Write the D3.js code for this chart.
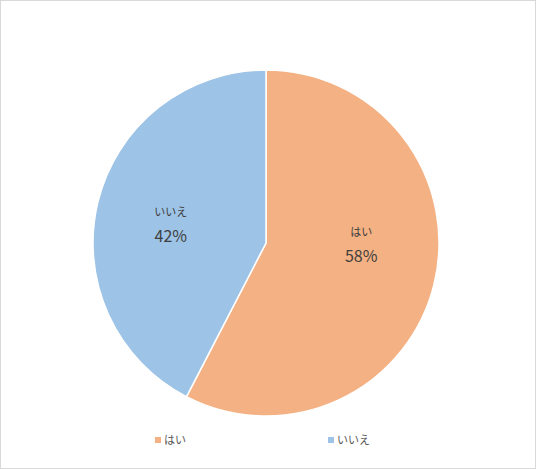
<!DOCTYPE html>
<html><head><meta charset="utf-8">
<script src="https://cdn.jsdelivr.net/npm/d3@7"></script>
<style>body{margin:0;background:#fff;}svg{display:block;}</style>
</head><body>
<script>
const categories = ["はい", "いいえ"];
const values = [57.6, 42.4];
const colors = ["#F4B183", "#9DC3E6"];
const labelNudge = [-20, 6];

const W = 536, H = 469;
const svg = d3.select("body").append("svg").attr("width", W).attr("height", H);
svg.append("rect").attr("x", 0.5).attr("y", 0.5).attr("width", W - 1).attr("height", H - 1)
  .attr("fill", "#fff").attr("stroke", "#d9d9d9");

const cx = 266, cy = 243, R = 173;
const pie = d3.pie().sort(null).value(d => d.v);
const data = pie(categories.map((c, i) => ({c, v: values[i], i})));
const arc = d3.arc().innerRadius(0).outerRadius(R);
const labelArc = d3.arc().innerRadius(98).outerRadius(98);
const g = svg.append("g").attr("transform", `translate(${cx},${cy})`);
g.selectAll("path").data(data).join("path")
  .attr("d", arc).attr("fill", d => colors[d.data.i])
  .attr("stroke", "#fff").attr("stroke-width", 1.5);

const total = d3.sum(values);
const lab = g.selectAll("g.lab").data(data).join("g").attr("class", "lab")
  .attr("transform", d => { const [x, y] = labelArc.centroid(d); return `translate(${x},${y + labelNudge[d.data.i]})`; });
lab.append("text").attr("text-anchor", "middle").attr("y", -10)
  .attr("font-family", "'Noto Sans CJK JP', sans-serif").attr("font-size", 11)
  .attr("fill", "#404040").text(d => d.data.c);
lab.append("text").attr("text-anchor", "middle").attr("y", 16)
  .attr("font-family", "'Noto Sans CJK JP', sans-serif").attr("font-size", 16)
  .attr("fill", "#404040").text(d => Math.round(d.data.v / total * 100) + "%");

const legendX = d3.scalePoint().domain(categories).range([158, 331]);
const lg = svg.selectAll("g.leg").data(categories).join("g").attr("class", "leg")
  .attr("transform", d => `translate(${legendX(d)},440)`);
lg.append("rect").attr("x", -3).attr("y", -3).attr("width", 6).attr("height", 6)
  .attr("fill", (d, i) => colors[i]);
lg.append("text").attr("x", 6).attr("y", 4)
  .attr("font-family", "'Noto Sans CJK JP', sans-serif").attr("font-size", 11)
  .attr("fill", "#595959").text(d => d);
</script>
</body></html>
